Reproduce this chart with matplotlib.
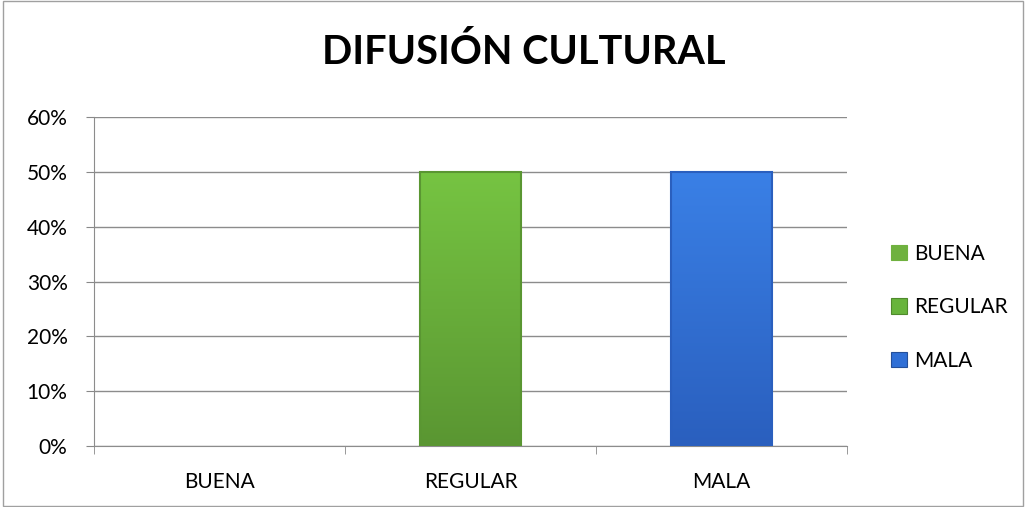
import numpy as np
import matplotlib.pyplot as plt
from matplotlib.patches import Rectangle
from matplotlib.ticker import PercentFormatter

categories = ['BUENA', 'REGULAR', 'MALA']
values = [0.0, 0.5, 0.5]
colors = ['#6fb13f', '#68b43c', '#2f6fd6']
top_colors = ['#7cc44a', '#76c442', '#3a80e6']
bottom_colors = ['#5e9a34', '#5a9632', '#2a5fbe']
yticks = [0, 0.1, 0.2, 0.3, 0.4, 0.5, 0.6]

plt.rcParams['font.family'] = ['Lato', 'DejaVu Sans']

fig = plt.figure(figsize=(10.26, 5.07), dpi=100)
ax = fig.add_axes([0.0916, 0.1203, 0.7339, 0.6489])

x = np.arange(len(categories))
bars = ax.bar(x, values, width=0.4, color=colors, edgecolor='none', zorder=3)

# vertical gradient on each bar
for bar, c_top, c_bot in zip(bars, top_colors, bottom_colors):
    h = bar.get_height()
    if h <= 0:
        continue
    x0, w = bar.get_x(), bar.get_width()
    ct = np.array(plt.matplotlib.colors.to_rgb(c_top))
    cb = np.array(plt.matplotlib.colors.to_rgb(c_bot))
    t = np.linspace(0, 1, 128)[:, None]
    grad = (cb * (1 - t) + ct * t)[:, None, :]
    im = ax.imshow(grad, extent=[x0, x0 + w, 0, h], origin='lower',
                   aspect='auto', zorder=3.5)
    im.set_clip_path(bar)
    ax.add_patch(Rectangle((x0, 0), w, h, fill=False,
                           edgecolor=c_bot, linewidth=1.5, zorder=4))

ax.set_xlim(-0.5, len(categories) - 0.5)
ax.set_ylim(0, 0.6)
ax.set_yticks(yticks)
ax.yaxis.set_major_formatter(PercentFormatter(1.0, decimals=0))
ax.set_xticks(x)
ax.set_xticklabels(categories)
ax.set_xticks(np.arange(len(categories) + 1) - 0.5, minor=True)
ax.tick_params(axis='x', which='major', length=0, pad=19, labelsize=15)
ax.tick_params(axis='x', which='minor', length=6, color='#888888', direction='out')
ax.tick_params(axis='y', length=6, color='#888888', pad=13, labelsize=15)

ax.grid(axis='y', color='#8c8c8c', linewidth=1, zorder=0)
ax.set_axisbelow(True)
for side in ['top', 'right']:
    ax.spines[side].set_visible(False)
for side in ['left', 'bottom']:
    ax.spines[side].set_color('#8c8c8c')

fig.text(0.51, 0.874, 'DIFUSIÓN CULTURAL', ha='center', va='baseline',
         fontsize=28.5, fontweight='bold')

handles = [Rectangle((0, 0), 1, 1, facecolor=c, edgecolor=e, linewidth=0.8)
           for c, e in zip(colors, ['#6fb13f', '#4f8a2c', '#244f9a'])]
fig.legend(handles, categories, loc='center left', bbox_to_anchor=(0.850, 0.394),
           frameon=False, fontsize=15, handlelength=0.77, handleheight=0.77,
           handletextpad=0.33, labelspacing=1.6)

border = Rectangle((0.003, 0.002), 0.994, 0.996, transform=fig.transFigure,
                   fill=False, edgecolor='#a0a0a0', linewidth=1)
fig.patches.append(border)

fig.savefig('out.png', dpi=100)
